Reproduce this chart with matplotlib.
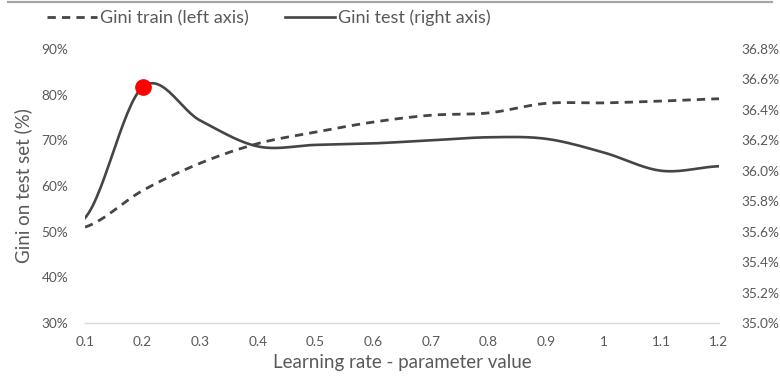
import numpy as np
import matplotlib
matplotlib.use("Agg")
import matplotlib.pyplot as plt
from matplotlib.lines import Line2D
from matplotlib.ticker import FuncFormatter

plt.rcParams['font.family'] = ['Lato', 'DejaVu Sans']

# Learning rate values and the Gini scores (%)
learning_rate = [0.1, 0.2, 0.3, 0.4, 0.5, 0.6, 0.7, 0.8, 0.9, 1.0, 1.1, 1.2]
gini_train = [51.0, 59.0, 65.0, 69.3, 71.8, 74.0, 75.5, 76.0, 78.1, 78.2, 78.6, 79.1]
gini_test = [35.69, 36.55, 36.33, 36.16, 36.17, 36.18, 36.20, 36.22, 36.21, 36.12, 36.00, 36.03]
x_tick_labels = ['0.1', '0.2', '0.3', '0.4', '0.5', '0.6', '0.7', '0.8', '0.9', '1', '1.1', '1.2']
series_names = ['Gini train (left axis)', 'Gini test (right axis)']
best_rate = 0.2
best_test = 36.55

TEXT = '#595959'
LINE = '#454545'


def smooth(xs, ys, n=30):
    """Catmull-Rom curve through the points (spreadsheet-style smoothed line)."""
    xs = np.asarray(xs, float)
    ys = np.asarray(ys, float)
    m = len(xs)
    out_x, out_y = [], []
    for i in range(m - 1):
        y0 = ys[i - 1] if i > 0 else ys[i]
        y3 = ys[i + 2] if i + 2 < m else ys[i + 1]
        y1, y2 = ys[i], ys[i + 1]
        t1 = (y2 - y0) / 2.0
        t2 = (y3 - y1) / 2.0
        t = np.linspace(0, 1, n, endpoint=(i == m - 2))
        h00 = 2 * t**3 - 3 * t**2 + 1
        h10 = t**3 - 2 * t**2 + t
        h01 = -2 * t**3 + 3 * t**2
        h11 = t**3 - t**2
        out_y.append(h00 * y1 + h10 * t1 + h01 * y2 + h11 * t2)
        out_x.append(xs[i] + t * (xs[i + 1] - xs[i]))
    return np.concatenate(out_x), np.concatenate(out_y)


fig = plt.figure(figsize=(7.8, 3.84), dpi=100)
ax = fig.add_axes([85 / 780, 1 - 323 / 384, (719 - 85) / 780, (323 - 49) / 384])
ax2 = ax.twinx()

sx, sy = smooth(learning_rate, gini_train)
ax.plot(sx, sy, color=LINE, lw=2, dashes=(3, 2.2), solid_capstyle='butt')
tx, ty = smooth(learning_rate, gini_test)
ax2.plot(tx, ty, color=LINE, lw=1.9)
ax2.plot([best_rate], [best_test], 'o', color='#ff0000', ms=11, zorder=5)

ax.set_xlim(0.1, 1.2)
ax.set_ylim(30, 90)
ax2.set_ylim(35.0, 36.8)
ax.set_xticks(learning_rate)
ax.set_xticklabels(x_tick_labels)
ax.set_yticks(np.arange(30, 91, 10))
ax2.set_yticks(np.arange(35.0, 36.81, 0.2))
ax.yaxis.set_major_formatter(FuncFormatter(lambda v, p: f'{v:.0f}%'))
ax2.yaxis.set_major_formatter(FuncFormatter(lambda v, p: f'{v:.1f}%'))

for a in (ax, ax2):
    for s in a.spines.values():
        s.set_visible(False)
    a.tick_params(length=0, labelsize=9.8, labelcolor=TEXT)
ax.spines['bottom'].set_visible(True)
ax.spines['bottom'].set_color('#d9d9d9')
ax.spines['bottom'].set_linewidth(1)
ax.tick_params(axis='x', pad=9)
ax.tick_params(axis='y', pad=12)
ax2.tick_params(axis='y', pad=16)

ax.set_xlabel('Learning rate - parameter value', fontsize=13.5, color=TEXT, labelpad=5)
ax.set_ylabel('Gini on test set (%)', fontsize=13.5, color=TEXT, labelpad=7)

# Legend entries placed along the top edge
handles = [
    Line2D([], [], color=LINE, lw=2, dashes=(3, 2.2)),
    Line2D([], [], color=LINE, lw=1.9),
]
for handle, name, x0 in zip(handles, series_names, (47, 285)):
    leg = fig.legend([handle], [name], loc='center left',
                     bbox_to_anchor=(x0 / 780, 1 - 18 / 384),
                     frameon=False, fontsize=13, labelcolor=TEXT,
                     handlelength=2.75, handletextpad=0.2,
                     borderaxespad=0, borderpad=0)

fig.add_artist(Line2D([8 / 780, 772 / 780], [1 - 2 / 384, 1 - 2 / 384],
                      transform=fig.transFigure, color='#a6a6a6', lw=1.6))

fig.savefig('out.png', dpi=100)
